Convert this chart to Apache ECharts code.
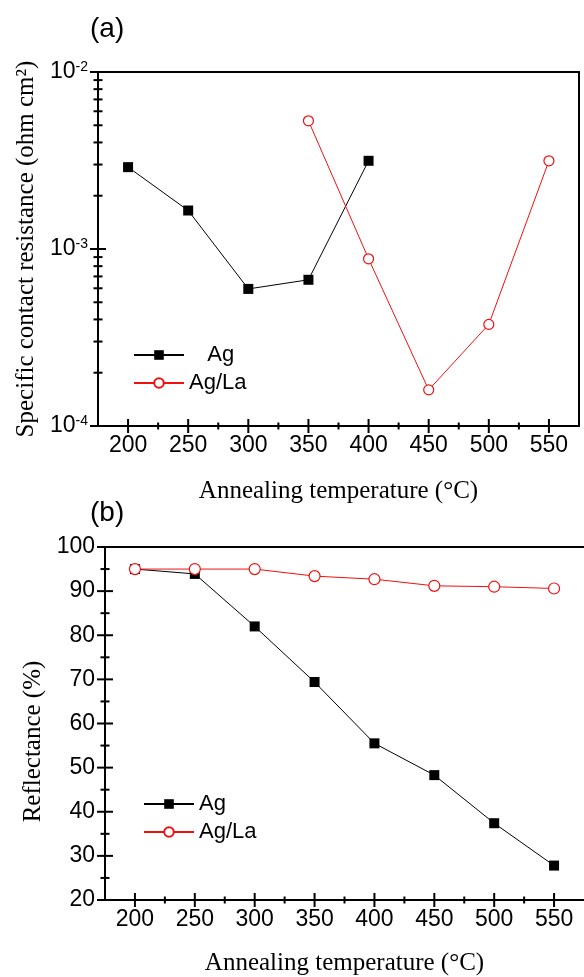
<!DOCTYPE html>
<html>
<head>
<meta charset="utf-8">
<script src="https://cdn.jsdelivr.net/npm/echarts@6/dist/echarts.min.js"></script>
<style>
  html, body { margin: 0; padding: 0; background: #fff; }
  #chart { width: 584px; height: 977px; }
</style>
</head>
<body>
<div id="chart"></div>
<script>
// (a) specific contact resistance
const agResTemps = [200, 250, 300, 350, 400]
const agRes = [2.9e-3, 1.65e-3, 5.95e-4, 6.7e-4, 3.15e-3]
const agLaResTemps = [350, 400, 450, 500, 550]
const agLaRes = [5.3e-3, 8.8e-4, 1.6e-4, 3.75e-4, 3.15e-3]

// (b) reflectance
const reflTemps = [200, 250, 300, 350, 400, 450, 500, 550]
const agRefl = [95.0, 93.9, 82.0, 69.4, 55.5, 48.3, 37.4, 27.8]
const agLaRefl = [95.0, 95.0, 95.0, 93.4, 92.7, 91.2, 91.0, 90.6]

// ticks
const xMajorTicks = [200, 250, 300, 350, 400, 450, 500, 550]
const xMinorTicks = [225, 275, 325, 375, 425, 475, 525]
const logMajorTicks = [1e-4, 1e-3, 1e-2]
const logMinorTicks = [2e-4, 3e-4, 4e-4, 5e-4, 6e-4, 7e-4, 8e-4, 9e-4,
  2e-3, 3e-3, 4e-3, 5e-3, 6e-3, 7e-3, 8e-3, 9e-3]
const reflMajorTicks = [20, 30, 40, 50, 60, 70, 80, 90, 100]
const reflMinorTicks = [25, 35, 45, 55, 65, 75, 85, 95]

const sans = 'Liberation Sans'
const serif = 'Liberation Serif'
const RED = '#f01010'
const X_MIN = 175, X_MAX = 575
const frameLine = { show: true, lineStyle: { color: '#000', width: 2 } }

const pairs = (xs, ys) => xs.map((x, i) => [x, ys[i]])

// axis that only draws its line (top / right edge of the box)
function edge(type, gridIndex, position, min, max) {
  return {
    type, gridIndex, position, min, max,
    splitLine: { show: false },
    axisLine: frameLine,
    axisTick: { show: false },
    axisLabel: { show: false }
  }
}

function xAxes(gridIndex) {
  return [
    {
      type: 'value', gridIndex, min: X_MIN, max: X_MAX, position: 'bottom',
      splitLine: { show: false },
      axisLine: frameLine,
      name: 'Annealing temperature (°C)',
      nameLocation: 'middle',
      nameGap: gridIndex === 0 ? 53 : 51,
      nameTextStyle: { fontFamily: serif, fontSize: 25, color: '#000' },
      axisTick: { show: false },
      axisLabel: { show: true, customValues: xMajorTicks, margin: 8, fontFamily: sans, fontSize: 23, color: '#000' }
    },
    edge('value', gridIndex, 'top', X_MIN, X_MAX)
  ]
}

// inward ticks drawn as thin rect markers sitting on the axes
function tickSeries(xAxisIndex, yAxisIndex, yMin, yMajor, yMinor) {
  const common = {
    type: 'scatter', xAxisIndex, yAxisIndex, silent: true, clip: false, z: 5,
    symbol: 'rect', itemStyle: { color: '#000', opacity: 1 }
  }
  return [
    { ...common, data: xMajorTicks.map(x => [x, yMin]), symbolSize: [2, 14], symbolOffset: [0, 0] },
    { ...common, data: xMinorTicks.map(x => [x, yMin]), symbolSize: [2, 7], symbolOffset: [0, 0] },
    { ...common, data: yMajor.map(y => [X_MIN, y]), symbolSize: [16, 2], symbolOffset: [0, 0] },
    { ...common, data: yMinor.map(y => [X_MIN, y]), symbolSize: [9, 2], symbolOffset: [0, 0] }
  ]
}

const chart = echarts.init(document.getElementById('chart'))

const option = {
  backgroundColor: '#fff',
  animation: false,
  title: [
    { text: '(a)', left: 90, top: 15, padding: 0, textStyle: { fontFamily: sans, fontSize: 28, fontWeight: 'normal', color: '#000' } },
    { text: '(b)', left: 90, top: 499, padding: 0, textStyle: { fontFamily: sans, fontSize: 28, fontWeight: 'normal', color: '#000' } }
  ],
  grid: [
    { left: 98, top: 72, width: 481, height: 354 },
    { left: 105, top: 547, width: 482, height: 355 }
  ],
  legend: [
    {
      left: 133, top: 344, padding: 0, orient: 'vertical', itemWidth: 50, itemHeight: 12, itemGap: 6,
      selectedMode: false, data: ['Ag', 'Ag/La'],
      formatter: name => (name === 'Ag' ? '   Ag' : name),
      textStyle: { fontFamily: sans, fontSize: 22, lineHeight: 22, color: '#000' }
    },
    {
      left: 143, top: 793, padding: 0, orient: 'vertical', itemWidth: 50, itemHeight: 12, itemGap: 6,
      selectedMode: false, data: ['Ag', 'Ag/La'],
      textStyle: { fontFamily: sans, fontSize: 22, lineHeight: 22, color: '#000' }
    }
  ],
  xAxis: [...xAxes(0), ...xAxes(1)],
  yAxis: [
    {
      type: 'log', gridIndex: 0, min: 1e-4, max: 1e-2, logBase: 10, position: 'left',
      name: 'Specific contact resistance (ohm cm²)',
      nameLocation: 'middle', nameGap: 52,
      nameTextStyle: { fontFamily: serif, fontSize: 25, color: '#000' },
      splitLine: { show: false },
      axisLine: frameLine,
      axisTick: { show: false },
      axisLabel: {
        show: true, margin: 10, color: '#000',
        formatter: v => '{b|10}{s|' + Math.round(Math.log10(v)) + '}',
        rich: {
          b: { fontFamily: sans, fontSize: 23, lineHeight: 23, color: '#000' },
          s: { fontFamily: sans, fontSize: 14, lineHeight: 14, verticalAlign: 'top', color: '#000' }
        }
      }
    },
    edge('log', 0, 'right', 1e-4, 1e-2),
    {
      type: 'value', gridIndex: 1, min: 20, max: 100, interval: 10, position: 'left',
      name: 'Reflectance (%)',
      nameLocation: 'middle', nameGap: 57,
      nameTextStyle: { fontFamily: serif, fontSize: 25, color: '#000', padding: [0, 36, 0, 0] },
      splitLine: { show: false },
      axisLine: frameLine,
      axisTick: { show: false },
      axisLabel: { show: true, margin: 10, fontFamily: sans, fontSize: 23, color: '#000' }
    }
  ],
  series: [
    ...tickSeries(0, 0, 1e-4, logMajorTicks, logMinorTicks),
    ...tickSeries(2, 2, 20, reflMajorTicks, reflMinorTicks),
    {
      name: 'Ag', type: 'line', xAxisIndex: 0, yAxisIndex: 0, z: 6,
      data: pairs(agResTemps, agRes),
      symbol: 'rect', symbolSize: 10,
      lineStyle: { color: '#000', width: 1 },
      itemStyle: { color: '#000' }
    },
    {
      name: 'Ag/La', type: 'line', xAxisIndex: 0, yAxisIndex: 0, z: 6,
      data: pairs(agLaResTemps, agLaRes),
      symbol: 'circle', symbolSize: 10,
      lineStyle: { color: RED, width: 1 },
      itemStyle: { color: '#fff', borderColor: RED, borderWidth: 1.2 }
    },
    {
      name: 'Ag', type: 'line', xAxisIndex: 2, yAxisIndex: 2, z: 6,
      data: pairs(reflTemps, agRefl),
      symbol: 'rect', symbolSize: 10,
      lineStyle: { color: '#000', width: 1 },
      itemStyle: { color: '#000' }
    },
    {
      name: 'Ag/La', type: 'line', xAxisIndex: 2, yAxisIndex: 2, z: 6,
      data: pairs(reflTemps, agLaRefl),
      symbol: 'circle', symbolSize: 11,
      lineStyle: { color: RED, width: 1 },
      itemStyle: { color: '#fff', borderColor: RED, borderWidth: 1.2 }
    }
  ]
}

chart.setOption(option)
</script>
</body>
</html>
